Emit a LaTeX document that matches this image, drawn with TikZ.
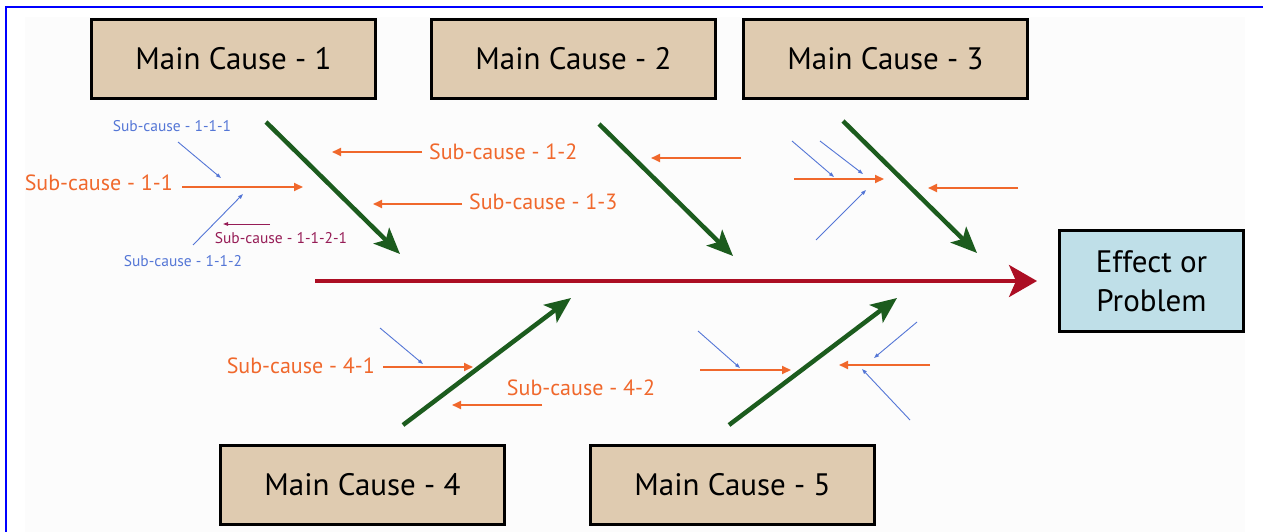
\documentclass[tikz,border=0pt]{standalone}
\usepackage{fontspec}
\setmainfont{PT Sans}
\usetikzlibrary{positioning, arrows.meta}

\definecolor{causetan}{RGB}{223,203,176}
\definecolor{effectblue}{RGB}{191,223,232}
\definecolor{spinered}{RGB}{172,14,36}
\definecolor{bonegreen}{RGB}{28,92,30}
\definecolor{suborange}{RGB}{240,104,44}
\definecolor{minorblue}{RGB}{84,118,214}
\definecolor{detailplum}{RGB}{150,28,86}
\definecolor{sheetgray}{RGB}{252,252,252}

\begin{document}
\begin{tikzpicture}[
        x=1pt, y=-1pt,
        causebox/.style={rectangle, draw=black, line width=3pt, fill=causetan, minimum width=284pt, minimum height=79pt, font=\fontsize{31}{36}\selectfont},
        effectbox/.style={rectangle, draw=black, line width=3pt, fill=effectblue, minimum width=184pt, minimum height=101pt, align=center, font=\fontsize{31}{39}\selectfont},
        sublabel/.style={text=suborange, inner sep=0pt, font=\fontsize{22}{26}\selectfont},
        minorlabel/.style={text=minorblue, inner sep=0pt, font=\fontsize{15.5}{18}\selectfont},
        detaillabel/.style={text=detailplum, inner sep=0pt, font=\fontsize{15.5}{18}\selectfont},
        spinearr/.style={-{Stealth[length=28pt, width=32pt, inset=7pt]}, line width=3.5pt, spinered},
        bonearr/.style={-{Stealth[length=26pt, width=22pt, inset=6pt]}, line width=4.5pt, bonegreen},
        subarr/.style={-{Triangle[length=9pt, width=8pt]}, line width=2pt, suborange},
        minorarr/.style={-{Triangle[length=5pt, width=3.5pt]}, line width=0.9pt, minorblue},
        detailarr/.style={-{Triangle[length=5pt, width=3.5pt]}, line width=0.9pt, detailplum},
    ]
        \useasboundingbox (0,0) rectangle (1263,532);

        % Sheet and frame
        \fill[sheetgray] (25,17) rectangle (1245,532);
        \draw[blue, line width=2pt] (6,532) -- (6,7) -- (1263,7);

        % Main causes (top and bottom rows)
        \node[causebox] at (233.5,59) (mc1) {Main Cause - 1};
        \node[causebox, right=53pt of mc1] (mc2) {Main Cause - 2};
        \node[causebox, right=25pt of mc2] (mc3) {Main Cause - 3};
        \node[causebox] at (362.5,485) (mc4) {Main Cause - 4};
        \node[causebox, right=83pt of mc4] (mc5) {Main Cause - 5};

        % Effect
        \node[effectbox] at (1151.5,281) (effect) {Effect or\\Problem};

        % Spine
        \coordinate (tail) at (315,281);
        \draw[spinearr] (tail) -- ([xshift=-21pt]effect.west);

        % Bones
        \coordinate (b1s) at (266,122); \coordinate (b1e) at (400,254);
        \coordinate (b2s) at (599,124); \coordinate (b2e) at (733,256);
        \coordinate (b3s) at (843,121); \coordinate (b3e) at (977,253);
        \coordinate (b4s) at (403,425); \coordinate (b4e) at (571,298);
        \coordinate (b5s) at (729,425); \coordinate (b5e) at (897,298);
        \foreach \b in {1,...,5}
            \draw[bonearr] (b\b s) -- (b\b e);

        % Sub-causes
        \coordinate (s11s) at (182,187); \coordinate (s11e) at (303,187);
        \coordinate (s12s) at (422,152); \coordinate (s12e) at (332,152);
        \coordinate (s13s) at (462,204); \coordinate (s13e) at (373,204);
        \coordinate (s2as) at (741,158); \coordinate (s2ae) at (651,158);
        \coordinate (s3as) at (794,179); \coordinate (s3ae) at (884,179);
        \coordinate (s3bs) at (1018,188); \coordinate (s3be) at (928,188);
        \coordinate (s41s) at (383,367); \coordinate (s41e) at (473,367);
        \coordinate (s42s) at (542,405); \coordinate (s42e) at (452,405);
        \coordinate (s5as) at (700,370); \coordinate (s5ae) at (791,370);
        \coordinate (s5bs) at (930,365); \coordinate (s5be) at (839,365);
        \foreach \s in {11,12,13,2a,3a,3b,41,42,5a,5b}
            \draw[subarr] (s\s s) -- (s\s e);

        \node[sublabel, left=9pt of s11s, yshift=4pt] (l11) {Sub-cause - 1-1};
        \node[sublabel, right=7pt of s12s] (l12) {Sub-cause - 1-2};
        \node[sublabel, right=7pt of s13s, yshift=2pt] (l13) {Sub-cause - 1-3};
        \node[sublabel, left=8pt of s41s, yshift=1pt] (l41) {Sub-cause - 4-1};
        \node[sublabel] at (581,388) (l42) {Sub-cause - 4-2};

        % Minor causes
        \foreach \m/\a/\b in {111/{178,142}/{221,178}, 112/{193,245}/{243,194},
                3a/{792,141}/{834,177}, 3b/{820,141}/{863,174}, 3c/{816,240}/{866,190},
                4a/{380,328}/{423,364},
                5a/{698,331}/{740,368}, 5b/{917,322}/{874,358}, 5c/{910,420}/{862,369}} {
            \coordinate (m\m s) at (\a);
            \coordinate (m\m e) at (\b);
            \draw[minorarr] (m\m s) -- (m\m e);
        }
        \node[minorlabel] at (172,126) (l111) {Sub-cause - 1-1-1};
        \node[minorlabel] at (183,261) (l112) {Sub-cause - 1-1-2};

        % Detail under 1-1-2
        \coordinate (d1s) at (270,224); \coordinate (d1e) at (223,224);
        \draw[detailarr] (d1s) -- (d1e);
        \node[detaillabel] at (281,238) (l1121) {Sub-cause - 1-1-2-1};
    \end{tikzpicture}
\end{document}
